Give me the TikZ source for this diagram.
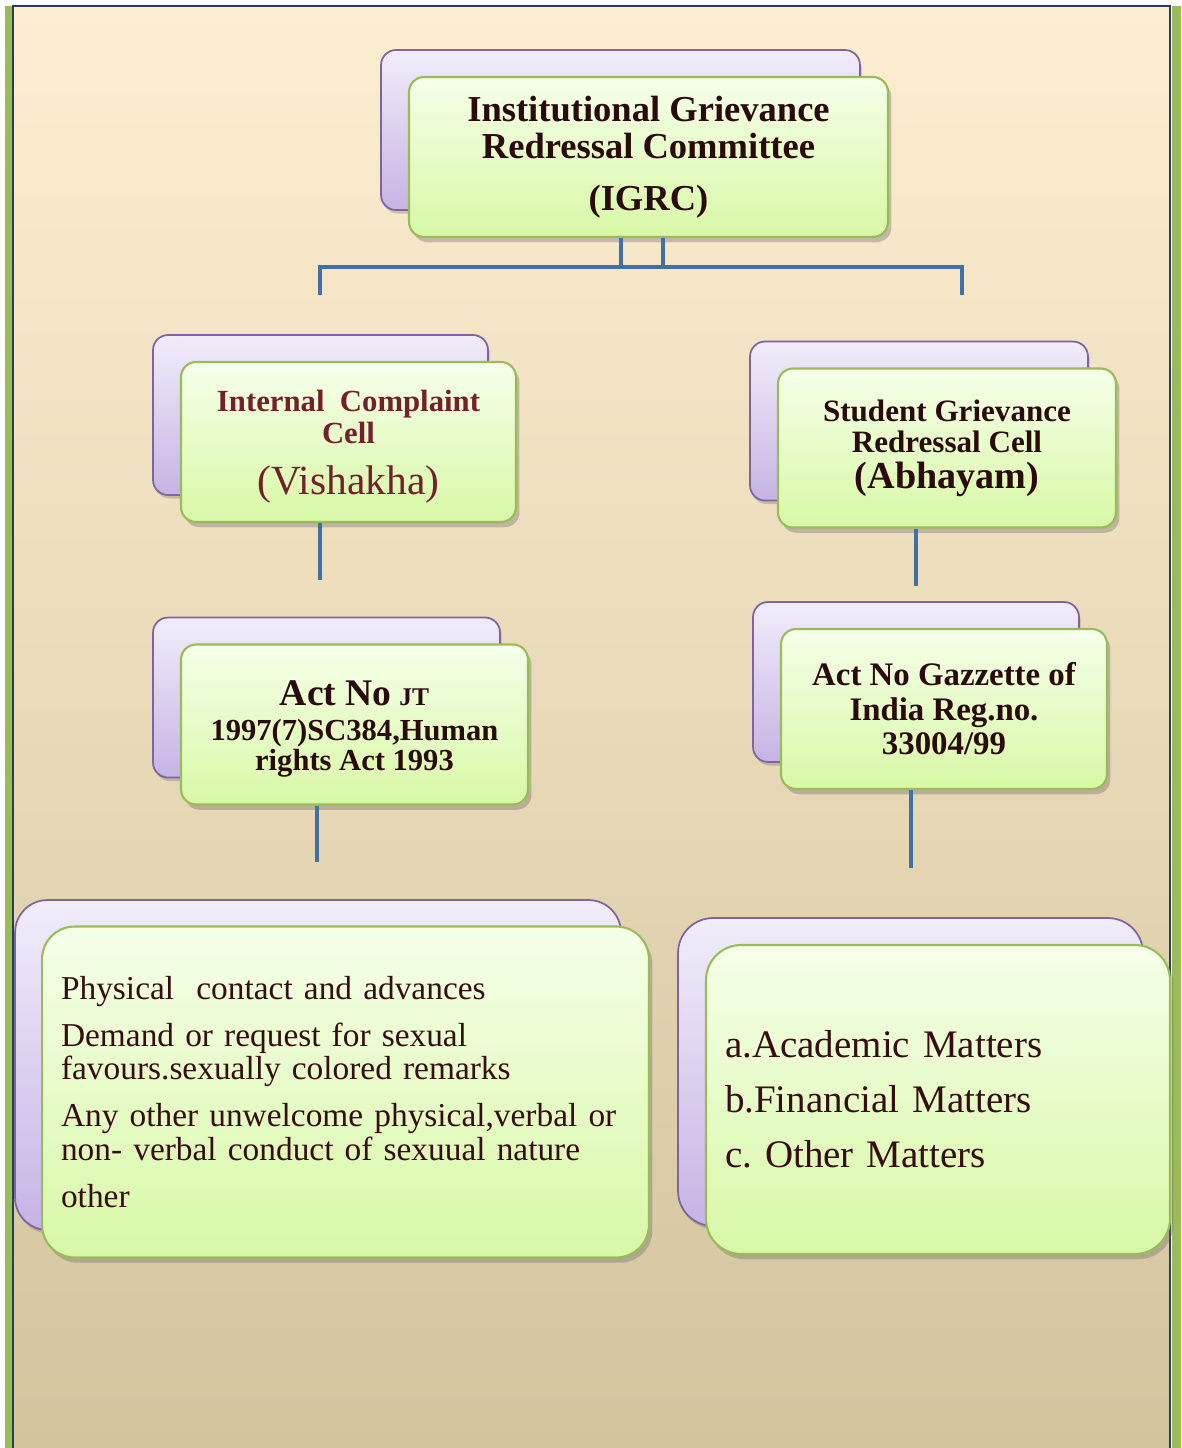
\documentclass[tikz,border=0pt]{standalone}
\usepackage{fontspec}
\setmainfont{Liberation Serif}
\usetikzlibrary{shadows, positioning}
\frenchspacing
\definecolor{bgtop}{HTML}{FDEED1}
\definecolor{bgmid}{HTML}{F3E9D2}
\definecolor{bgbot}{HTML}{D3C49E}
\definecolor{framenavy}{HTML}{243F60}
\definecolor{framegreen}{HTML}{9BBB59}
\definecolor{lavtop}{HTML}{F1EDFA}
\definecolor{lavbot}{HTML}{C6B4E4}
\definecolor{lavline}{HTML}{8064A2}
\definecolor{limetop}{HTML}{F5FFE9}
\definecolor{limebot}{HTML}{D8F8A6}
\definecolor{limeline}{HTML}{9BBB59}
\definecolor{linkblue}{HTML}{4170A6}
\definecolor{txtdark}{HTML}{2B0A0E}
\definecolor{txtred}{HTML}{74202C}

\begin{document}
\begin{tikzpicture}[x=0.02cm,y=-0.02cm,on grid]
    \tikzstyle{backbox}=[shape=rectangle,rounded corners=0.3cm,draw=lavline,line width=1pt,
        top color=lavtop,bottom color=lavbot,
        drop shadow={shadow xshift=1pt,shadow yshift=-2pt,opacity=0.3,fill=black!60}]
    \tikzstyle{frontbox}=[shape=rectangle,rounded corners=0.3cm,draw=limeline,line width=1.2pt,
        top color=limetop,bottom color=limebot,align=center,inner sep=0pt,text=txtdark,
        drop shadow={shadow xshift=2pt,shadow yshift=-3pt,opacity=0.35,fill=black!60}]
    \tikzstyle{link}=[draw=linkblue,line width=2.3pt]

    % page and frame
    \useasboundingbox (0,0) rectangle (1181,1448);
    \fill[white] (0,0) rectangle (1181,1448);
    \shade[top color=bgtop,middle color=bgmid,bottom color=bgbot] (13,6) rectangle (1170,1448);
    \fill[framegreen] (5,6) rectangle (12,1448);
    \fill[framegreen] (1172,6) rectangle (1181,1448);
    \draw[framenavy,line width=1.2pt] (13,1448) -- (13,6) -- (1170,6) -- (1170,1448);

    % top
    \node[backbox,minimum width=9.58cm,minimum height=3.2cm] (igrcB) at (620.5,130) {};
    \node[frontbox,minimum width=9.58cm,minimum height=3.2cm,below right=0.54cm and 0.56cm of igrcB,
        font=\bfseries\fontsize{20.8}{21}\selectfont] (igrc)
        {Institutional Grievance\\ Redressal Committee\\[8.5pt] (IGRC)};

    % second row
    \node[backbox,minimum width=6.7cm,minimum height=3.2cm] (iccB) at (320.5,415) {};
    \node[frontbox,minimum width=6.7cm,minimum height=3.2cm,below right=0.54cm and 0.56cm of iccB,
        text=txtred,font=\bfseries\fontsize{17.5}{18}\selectfont] (icc)
        {\rule{0pt}{17.6pt}Internal\ \ Complaint\\ Cell\\[11.3pt] {\mdseries\fontsize{23.6}{24}\selectfont (Vishakha)}};

    \node[backbox,minimum width=6.76cm,minimum height=3.18cm] (sgrcB) at (919,421) {};
    \node[frontbox,minimum width=6.76cm,minimum height=3.18cm,below right=0.54cm and 0.56cm of sgrcB,
        font=\bfseries\fontsize{17.7}{17.6}\selectfont] (sgrc)
        {Student Grievance\\ Redressal Cell\\[2.8pt] {\fontsize{21.7}{22}\selectfont (Abhayam)}};

    % third row
    \node[backbox,minimum width=6.94cm,minimum height=3.2cm] (actIB) at (326.5,697.5) {};
    \node[frontbox,minimum width=6.94cm,minimum height=3.2cm,below right=0.54cm and 0.56cm of actIB,
        font=\bfseries\fontsize{17.4}{17}\selectfont] (actI)
        {\rule{0pt}{19pt}{\fontsize{21.4}{22}\selectfont Act No} {\fontsize{14.5}{15}\selectfont JT}\\[3pt]
         1997(7)SC384,Human\\ rights Act 1993};

    \node[backbox,minimum width=6.52cm,minimum height=3.2cm] (actSB) at (916,682) {};
    \node[frontbox,minimum width=6.52cm,minimum height=3.2cm,below right=0.54cm and 0.56cm of actSB,
        font=\bfseries\fontsize{18.7}{19.6}\selectfont] (actS)
        {Act No Gazzette of\\ India Reg.no.\\ 33004/99};

    % bottom row
    \node[backbox,rounded corners=0.65cm,minimum width=12.12cm,minimum height=6.6cm] (harassB) at (318,1065) {};
    \node[frontbox,rounded corners=0.65cm,minimum width=12.14cm,minimum height=6.62cm,
        below right=0.54cm and 0.55cm of harassB,align=left,inner xsep=0.38cm,text width=11.38cm,
        text=txtdark!85!txtred,font=\fontsize{19}{19.3}\selectfont] (harass)
        {Physical\ \ contact and advances\\[7.4pt]
         Demand or request for sexual\\ favours.sexually colored remarks\\[7.4pt]
         Any other unwelcome physical,verbal or\\ non- verbal conduct of sexuual nature\\[7.4pt]
         other};

    \node[backbox,rounded corners=0.7cm,minimum width=9.3cm,minimum height=6.16cm] (mattersB) at (910.5,1072) {};
    \node[frontbox,rounded corners=0.7cm,minimum width=9.28cm,minimum height=6.18cm,
        below right=0.55cm and 0.55cm of mattersB,align=left,inner xsep=0.38cm,text width=8.52cm,
        text=txtdark!85!txtred,font=\fontsize{22.2}{31.2}\selectfont] (matters)
        {a.Academic Matters\\ b.Financial Matters\\ c. Other Matters};

    % connectors
    \coordinate (busL) at (320,267);
    \coordinate (busR) at (962,267);
    \coordinate (tipL) at (320,295);
    \coordinate (tipR) at (962,295);
    \coordinate (iccEnd) at (320,580);
    \coordinate (sgrcEnd) at (916,586);
    \coordinate (actIEnd) at (317,862);
    \coordinate (actSEnd) at (911,868);

    \draw[link] ([xshift=-0.55cm]igrc.south) |- (busR) -- (tipR);
    \draw[link] ([xshift=0.29cm]igrc.south) |- (busL) -- (tipL);
    \draw[link] (icc.south -| iccEnd) -- (iccEnd);
    \draw[link] (sgrc.south -| sgrcEnd) -- (sgrcEnd);
    \draw[link] (actI.south -| actIEnd) -- (actIEnd);
    \draw[link] (actS.south -| actSEnd) -- (actSEnd);

\end{tikzpicture}
\end{document}
